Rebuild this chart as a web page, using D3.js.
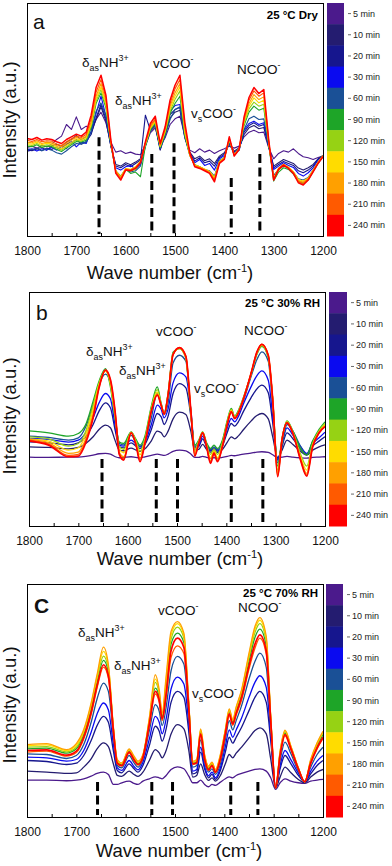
<!DOCTYPE html>
<html>
<head>
<meta charset="utf-8">
<script src="https://cdn.jsdelivr.net/npm/d3@7"></script>
<style>
  body { margin: 0; background: #fff; }
  svg { display: block; font-family: "Liberation Sans", Arial, sans-serif; }
</style>
</head>
<body>
<script>
"use strict";

// ---------- data ----------
const timeLabels = ["5 min", "10 min", "20 min", "30 min", "60 min", "90 min",
  "120 min", "150 min", "180 min", "210 min", "240 min"]
const timeColors = ["#4b1a8c", "#241c70", "#16168e", "#0a0af0", "#1a5096", "#1ea528",
  "#96d214", "#ffdc00", "#ffa000", "#ff5a00", "#ff0000"]

const majorTicks = [1800, 1700, 1600, 1500, 1400, 1300, 1200]
const minorTicks = [1750, 1650, 1550, 1450, 1350, 1250]

// panel a (dry) - wave numbers every 10 cm-1
const waveA = [1800,1790,1780,1770,1760,1750,1740,1730,1720,1710,
  1700,1690,1680,1670,1660,1650,1640,1630,1620,1610,
  1600,1590,1580,1570,1560,1550,1540,1530,1520,1510,
  1500,1490,1480,1470,1460,1450,1440,1430,1420,1410,
  1400,1390,1380,1370,1360,1350,1340,1330,1320,1310,
  1300,1290,1280,1270,1260,1250,1240,1230,1220,1210,1200]

const a5 = [266,270,264,272,268,276,290,300,335,320,
  358,320,330,322,350,372,340,282,252,256,
  248,252,246,244,272,310,325,270,295,335,
  352,360,300,258,250,262,252,258,248,256,
  262,270,264,270,298,312,318,310,312,265,
  232,248,256,252,262,248,238,235,230,236,240]
const a10 = [260,256,262,266,258,270,276,268,282,290,
  302,288,298,310,350,388,345,270,215,210,
  220,214,222,232,280,315,330,258,305,355,
  372,378,294,252,232,240,226,232,218,240,
  250,276,255,265,305,325,332,322,326,268,
  210,220,230,224,218,204,198,205,215,232,242]
const a20 = [255,258,262,256,264,260,268,262,276,282,
  290,276,284,305,355,395,352,270,210,205,
  215,208,218,228,363,318,336,260,312,365,
  380,386,298,250,225,235,220,225,210,236,
  246,278,252,262,312,332,340,330,335,270,
  205,215,224,218,212,196,190,198,210,230,240]
const a30 = [258,262,255,262,258,266,258,270,262,285,
  268,282,278,315,368,420,360,275,205,198,
  208,212,202,215,272,322,340,262,318,375,
  392,395,300,248,220,230,212,218,198,232,
  242,280,250,258,318,338,345,335,340,272,
  200,210,220,212,206,188,180,190,205,228,238]
const a60 = [262,260,264,256,262,258,250,246,256,268,
  278,276,282,312,375,400,362,272,196,180,
  200,192,196,210,268,315,335,262,300,350,
  380,388,296,242,214,208,200,196,180,226,
  236,282,244,258,320,352,360,350,352,270,
  182,200,210,204,192,172,168,176,198,222,240]
const a90 = [270,268,274,266,270,268,260,254,264,274,
  284,282,288,325,398,430,385,276,194,176,
  200,188,192,178,272,320,340,266,308,368,
  398,420,302,244,213,206,198,192,176,224,
  236,286,246,260,332,372,390,378,384,275,
  165,192,205,200,186,164,156,168,194,218,238]
const a120 = [274,272,278,270,274,272,264,258,268,278,
  288,285,292,330,405,440,392,278,195,178,
  202,195,200,222,274,322,342,268,312,375,
  410,436,308,244,214,208,200,194,176,224,
  236,288,246,262,338,382,402,390,396,278,
  172,198,212,204,190,166,160,170,196,220,240]
const a150 = [278,276,282,274,279,276,268,262,272,282,
  292,288,296,336,412,448,398,280,196,178,
  203,200,208,225,276,325,345,270,315,382,
  420,448,312,243,213,208,201,194,175,223,
  235,290,245,262,342,390,415,400,408,280,
  174,204,216,207,193,170,165,174,198,222,241]
const a180 = [282,280,286,278,282,280,272,268,278,288,
  296,292,300,342,420,458,405,282,195,176,
  202,200,207,224,278,328,348,272,318,390,
  430,458,318,242,212,207,200,193,172,222,
  234,292,244,262,346,398,425,410,418,282,
  172,203,215,206,192,167,162,172,197,222,241]
const a210 = [288,284,290,283,286,285,276,272,283,292,
  300,296,305,352,432,470,415,285,192,172,
  200,198,205,222,280,332,352,275,322,398,
  442,470,330,245,210,205,198,190,168,220,
  232,294,242,262,352,408,436,420,430,285,
  170,202,214,205,190,164,158,170,195,220,240]
const a240 = [293,290,296,288,292,290,283,278,290,298,
  306,300,312,363,446,483,423,288,188,168,
  198,196,203,220,283,338,360,278,328,408,
  453,483,340,250,208,203,196,188,163,218,
  230,298,240,260,358,416,446,428,440,288,
  168,200,213,203,188,160,153,168,193,218,238]

// panels b and c share one wave number grid
const waveBC = [1800,1760,1720,1700,1685,1670,1658,1645,1635,1625,
  1617,1608,1593,1583,1575,1565,1552,1540,1532,1526,
  1518,1508,1495,1482,1472,1464,1456,1448,1440,1432,
  1425,1418,1408,1398,1390,1383,1376,1365,1350,1338,
  1328,1315,1306,1296,1287,1277,1265,1250,1237,1225,1212,1200]

// panel b (30% RH)
const b5 = [207,206,207,207,209,213,217,218,216,208,
  205,206,208,206,205,208,212,216,214,212,
  216,224,228,226,216,206,206,209,206,204,
  205,204,206,209,212,211,213,216,219,222,
  223,221,214,205,207,209,207,205,204,206,207,208]
const b10 = [238,236,232,236,248,268,290,303,295,255,
  228,226,234,228,224,232,256,285,280,268,
  285,322,342,335,285,228,230,245,230,222,
  226,221,230,252,268,262,270,290,315,332,
  338,322,268,205,228,258,245,225,213,228,238,244]
const b20 = [253,250,244,250,268,305,345,370,355,285,
  238,235,250,240,233,245,290,338,328,305,
  330,398,428,415,330,235,238,262,238,226,
  232,225,240,282,308,300,312,345,385,412,
  423,400,310,200,240,280,262,232,215,240,255,268]
const b30 = [263,260,252,258,280,325,370,398,382,298,
  243,240,258,246,238,252,305,363,350,325,
  352,430,460,448,350,238,242,270,243,228,
  235,228,245,295,323,313,328,368,418,452,
  466,438,330,198,248,295,273,240,218,248,265,282]
const b60 = [270,266,258,265,298,365,425,456,430,320,
  248,244,272,252,240,258,325,400,365,335,
  370,490,513,495,345,240,250,278,246,230,
  238,230,252,312,343,325,340,378,448,500,
  523,495,360,190,240,305,285,240,215,255,280,300]
const b90 = [286,280,270,278,305,375,435,473,418,318,
  252,248,283,260,243,270,360,418,368,340,
  400,522,533,505,338,243,258,283,250,233,
  243,233,258,318,353,330,346,388,456,516,
  540,506,380,180,265,316,285,233,213,255,290,313]
const b120 = [268,262,240,248,285,362,430,468,425,322,
  238,230,282,255,225,262,355,410,366,338,
  398,518,533,505,340,230,255,282,245,215,
  232,215,250,314,350,328,343,386,456,518,
  542,508,380,168,262,314,282,218,180,248,286,308]
const b150 = [262,255,228,235,275,350,425,466,430,328,
  230,220,281,250,214,256,350,402,364,337,
  396,516,534,506,343,222,252,281,242,205,
  226,205,245,310,347,326,341,385,457,520,
  544,510,380,160,261,312,280,210,168,244,283,304]
const b180 = [260,250,218,222,262,338,420,467,435,333,
  222,208,280,246,203,252,347,397,363,336,
  395,515,535,508,346,215,250,280,240,196,
  222,198,240,308,345,324,340,384,457,521,
  545,512,380,155,260,311,279,205,158,241,281,301]
const b210 = [258,246,212,215,255,330,417,468,438,336,
  218,202,280,244,197,250,346,395,362,336,
  395,515,536,509,347,212,249,280,239,191,
  220,195,239,307,344,323,339,383,458,522,
  546,512,380,150,260,310,278,202,153,239,280,299]
const b240 = [256,243,208,210,250,325,415,468,440,338,
  215,198,280,243,193,248,345,393,362,336,
  395,515,536,510,348,210,248,280,238,188,
  218,193,238,306,343,323,338,383,458,523,
  546,513,380,148,260,310,278,200,150,238,280,298]

// panel c (70% RH)
const c5 = [111,111,109,111,115,123,131,135,128,98,
  98,103,108,101,98,108,115,121,118,115,
  125,143,151,145,123,103,103,111,98,91,
  98,95,105,115,121,118,125,131,138,143,
  145,138,118,83,103,115,108,103,101,108,111,113]
const c10 = [138,135,131,133,150,175,205,223,212,160,
  125,122,138,128,122,135,170,203,193,178,
  200,250,278,265,200,120,125,160,128,110,
  118,108,125,160,188,178,192,210,238,260,
  268,250,175,88,120,150,133,113,103,120,135,143]
const c20 = [170,167,158,162,185,230,275,303,285,200,
  140,133,160,145,135,155,215,273,258,228,
  265,345,378,360,255,130,135,195,145,118,
  128,113,140,195,240,222,240,270,320,360,
  378,345,230,88,145,185,160,125,106,130,155,170]
const c30 = [180,178,168,173,200,255,310,343,322,220,
  148,140,170,152,142,165,235,303,285,250,
  295,385,421,400,280,138,143,210,152,124,
  135,118,148,212,262,240,262,298,360,405,
  425,390,250,88,155,200,172,132,106,138,168,185]
const c60 = [190,188,176,185,218,285,355,403,378,245,
  155,148,185,163,150,175,260,338,318,275,
  330,440,483,460,305,150,155,232,165,135,
  145,128,160,232,290,262,290,335,415,468,
  493,450,270,88,170,225,190,138,106,150,188,210]
const c90 = [205,207,192,205,248,325,405,471,436,265,
  165,157,198,175,160,183,286,388,362,302,
  385,520,553,525,332,162,166,255,179,146,
  158,138,180,255,316,285,318,370,468,540,
  565,515,295,88,190,252,207,146,106,165,214,248]
const c120 = [210,212,196,210,254,333,415,484,445,268,
  168,160,201,178,163,185,291,405,370,306,
  400,535,571,538,336,164,169,259,183,149,
  161,140,183,258,320,289,324,376,480,555,
  582,528,298,88,194,256,210,147,106,168,218,253]
const c150 = [214,217,200,216,258,338,422,498,452,270,
  170,161,203,180,165,186,295,415,376,310,
  412,547,582,546,340,166,171,262,186,151,
  163,141,186,261,323,291,328,380,487,565,
  592,536,300,88,196,259,212,148,106,170,221,256]
const c180 = [218,221,203,221,263,343,428,511,458,273,
  173,163,205,183,168,188,298,428,383,313,
  423,558,588,553,343,168,173,265,188,153,
  165,143,188,263,325,293,331,383,493,573,
  600,543,303,88,198,261,213,148,106,173,223,258]
const c210 = [195,198,183,194,235,308,388,451,418,258,
  160,153,192,170,156,178,275,370,345,290,
  360,480,515,492,318,158,161,246,173,140,
  153,133,172,246,305,276,306,352,445,508,
  538,490,285,88,182,244,202,143,106,160,205,236]
const c240 = [200,202,186,198,240,315,395,458,425,262,
  162,155,195,172,158,180,280,378,352,295,
  370,500,538,510,325,160,163,250,175,142,
  155,135,175,250,310,280,312,360,455,520,
  548,500,290,88,185,248,205,145,106,162,208,240]

// band assignment markers: wave number and top of the dashed line (a.u.)
const bandsA = [1654, 1547, 1502, 1386, 1328]
const bandTopsA = [297, 246, 279, 174, 246]
const bandsB = [1652, 1542, 1499, 1390, 1326]
const bandTopsB = [201, 201, 201, 201, 201]
const bandsC = [1657, 1547, 1505, 1387, 1332]
const bandTopsC = [105, 105, 105, 105, 105]

// ---------- layout ----------
const W = 392, H = 866

const panels = [
  { letter: "a", cond: "25 °C Dry", wave: waveA,
    series: [a5, a10, a20, a30, a60, a90, a120, a150, a180, a210, a240],
    bands: bandsA, bandTops: bandTopsA, yMax: 700,
    l: 27, r: 323, t: 3, b: 236, cbL: 327, cbR: 344,
    curve: d3.curveLinear, lw: 1.1,
    titleX: 170, titleY: 279, ylabY: 120,
    letterPos: [33, 29], condY: 19,
    notes: [[82, 67], [115, 105], [153, 68], [191, 118], [237, 74]] },
  { letter: "b", cond: "25 °C 30% RH", wave: waveBC,
    series: [b5, b10, b20, b30, b60, b90, b120, b150, b180, b210, b240],
    bands: bandsB, bandTops: bandTopsB, yMax: 703,
    l: 29, r: 325, t: 292, b: 526, cbL: 329, cbR: 347,
    curve: d3.curveMonotoneX, lw: 1.3,
    titleX: 180, titleY: 565, ylabY: 416,
    letterPos: [36, 320], condY: 307,
    notes: [[86, 356], [119, 375], [156, 336], [194, 393], [244, 335]] },
  { letter: "c", cond: "25 °C 70% RH", wave: waveBC,
    series: [c5, c10, c20, c30, c60, c90, c120, c150, c180, c210, c240],
    bands: bandsC, bandTops: bandTopsC, yMax: 701,
    l: 27, r: 323, t: 584, b: 817, cbL: 326, cbR: 343,
    curve: d3.curveMonotoneX, lw: 1.3,
    titleX: 179, titleY: 857, ylabY: 705,
    letterPos: [34, 613], condY: 597,
    notes: [[78, 637], [114, 670], [158, 615], [192, 698], [238, 612]] }
]

const noteParts = [
  [{ t: "δ" }, { t: "as", s: "sub" }, { t: "NH" }, { t: "3+", s: "sup" }],
  [{ t: "δ" }, { t: "as", s: "sub" }, { t: "NH" }, { t: "3+", s: "sup" }],
  [{ t: "vCOO" }, { t: "-", s: "sup" }],
  [{ t: "v" }, { t: "s", s: "sub" }, { t: "COO" }, { t: "-", s: "sup" }],
  [{ t: "NCOO" }, { t: "-", s: "sup" }]
]

const svg = d3.select("body").append("svg")
  .attr("width", W)
  .attr("height", H)

panels.forEach((p, k) => drawPanel(p, k))

function drawPanel(p, k) {
  const g = svg.append("g")

  const x = d3.scaleLinear().domain([1800, 1200]).range([p.l, p.r])
  const y = d3.scaleLinear().domain([0, p.yMax]).range([p.b, p.t])

  // clip for spectra
  const clipId = "clip" + k
  g.append("clipPath").attr("id", clipId)
    .append("rect")
    .attr("x", p.l).attr("y", p.t)
    .attr("width", p.r - p.l).attr("height", p.b - p.t)

  const line = d3.line()
    .x((d, i) => x(p.wave[i]))
    .y(d => y(d))
    .curve(p.curve)

  g.append("g").attr("clip-path", `url(#${clipId})`)
    .selectAll("path")
    .data(p.series)
    .join("path")
      .attr("d", line)
      .attr("fill", "none")
      .attr("stroke", (d, i) => timeColors[i])
      .attr("stroke-width", (d, i) => i == 10 ? p.lw + 0.4 : p.lw)
      .attr("stroke-linejoin", "round")

  // dashed band markers
  g.selectAll(".band")
    .data(p.bands)
    .join("line")
      .attr("x1", d => x(d)).attr("x2", d => x(d))
      .attr("y1", (d, i) => y(p.bandTops[i]))
      .attr("y2", y(0) - 2)
      .attr("stroke", "#000")
      .attr("stroke-width", 3)
      .attr("stroke-dasharray", "9,4.5")

  // x axis, ticks pointing inward
  const xAxis = g.append("g")
    .attr("transform", `translate(0,${p.b})`)
    .call(d3.axisBottom(x).tickValues(majorTicks).tickSizeInner(-3)
      .tickSizeOuter(0).tickPadding(10).tickFormat(d3.format("d")))
  xAxis.select(".domain").remove()
  xAxis.selectAll("text").style("font-size", "12px")
    .style("font-family", "'Liberation Sans', Arial, sans-serif").attr("fill", "#111")

  const xMinor = g.append("g")
    .attr("transform", `translate(0,${p.b})`)
    .call(d3.axisBottom(x).tickValues(minorTicks).tickSizeInner(-3)
      .tickSizeOuter(0).tickFormat(""))
  xMinor.select(".domain").remove()

  // frame
  g.append("rect")
    .attr("x", p.l + 0.5).attr("y", p.t + 0.5)
    .attr("width", p.r - p.l).attr("height", p.b - p.t)
    .attr("fill", "none").attr("stroke", "#000").attr("stroke-width", 1)

  // axis titles
  const title = g.append("text")
    .attr("x", p.titleX).attr("y", p.titleY)
    .attr("text-anchor", "middle")
    .style("font-size", "18.5px").attr("fill", "#111")
  title.append("tspan").text("Wave number (cm")
  title.append("tspan").text("-1").attr("dy", -7).style("font-size", "11px")
  title.append("tspan").text(")").attr("dy", 7)

  g.append("text")
    .attr("transform", `translate(16,${p.ylabY})rotate(-90)`)
    .attr("text-anchor", "middle")
    .style("font-size", "18.5px").attr("fill", "#111")
    .text("Intensity (a.u.)")

  // panel letter and condition
  g.append("text")
    .attr("x", p.letterPos[0]).attr("y", p.letterPos[1])
    .style("font-size", "21px").attr("fill", "#111")
    .style("font-weight", p.letter == "c" ? "bold" : "normal")
    .text(p.letter == "c" ? "C" : p.letter)

  g.append("text")
    .attr("x", p.r - 5).attr("y", p.condY)
    .attr("text-anchor", "end")
    .style("font-size", "11.5px").style("font-weight", "bold")
    .text(p.cond)

  // band names
  p.notes.forEach((pos, i) => richText(g, pos[0], pos[1], noteParts[i], 13.5))

  // colour bar legend
  const segH = (p.b - p.t) / timeLabels.length
  g.selectAll(".seg")
    .data(timeLabels)
    .join("rect")
      .attr("x", p.cbL)
      .attr("y", (d, i) => p.t + i * segH)
      .attr("width", p.cbR - p.cbL)
      .attr("height", segH + 0.5)
      .attr("fill", (d, i) => timeColors[i])

  g.selectAll(".cbtick")
    .data(timeLabels)
    .join("line")
      .attr("x1", p.cbR + 4).attr("x2", p.cbR + 7)
      .attr("y1", (d, i) => p.t + (i + 0.5) * segH)
      .attr("y2", (d, i) => p.t + (i + 0.5) * segH)
      .attr("stroke", "#444").attr("stroke-width", 0.8)

  g.selectAll(".cblabel")
    .data(timeLabels)
    .join("text")
      .attr("x", p.cbR + 9)
      .attr("y", (d, i) => p.t + (i + 0.5) * segH + 3)
      .style("font-size", "9px").attr("fill", "#222")
      .text(d => d)
}

// text with sub/superscripts
function richText(g, x, y, parts, size) {
  const t = g.append("text").attr("x", x).attr("y", y)
    .style("font-size", size + "px").attr("fill", "#111")
  let shift = 0
  parts.forEach(part => {
    const want = part.s == "sub" ? 4 : part.s == "sup" ? -6 : 0
    const ts = t.append("tspan").text(part.t).attr("dy", want - shift)
    if (part.s) ts.style("font-size", (size * 0.66) + "px")
    shift = want
  })
}
</script>
</body>
</html>
